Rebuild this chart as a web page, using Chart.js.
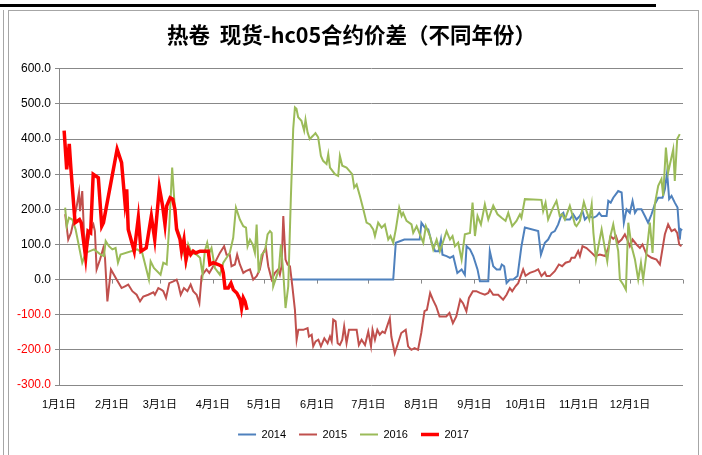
<!DOCTYPE html>
<html>
<head>
<meta charset="utf-8">
<script src="https://cdn.jsdelivr.net/npm/chart.js@4"></script>
<style>
  html, body { margin: 0; padding: 0; background: #fff; }
  #wrap { position: relative; width: 702px; height: 455px; overflow: hidden; }
  .topbar { position: absolute; left: 0; top: 4px; width: 656px; height: 3px; background: #000; }
  .side { position: absolute; left: 3px; top: 10px; width: 1px; height: 445px; background: #a6a6a6; }
  .frame { position: absolute; left: 8px; top: 10px; width: 689px; height: 450px;
           border: 1px solid #a6a6a6; border-bottom: none; }
  canvas { position: absolute; left: 0; top: 0; }
</style>
</head>
<body>
<div id="wrap">
  <div class="topbar"></div>
  <div class="side"></div>
  <div class="frame"></div>
  <canvas id="spreadChart" width="702" height="455"></canvas>
</div>
<script>
// 月份刻度（以一年中的天数计）
const monthDays = [0, 31, 59, 90, 120, 151, 181, 212, 243, 273, 304, 334, 365];
const monthLabels = ['1月1日', '2月1日', '3月1日', '4月1日', '5月1日', '6月1日', '7月1日', '8月1日', '9月1日', '10月1日', '11月1日', '12月1日', ''];
const yTicks = [-300, -200, -100, 0, 100, 200, 300, 400, 500, 600];
const years = ['2014', '2015', '2016', '2017'];

// 2014
const days2014 = [136, 195.5, 197, 202, 211, 212, 214, 216, 218, 220, 222, 223.4, 224.3, 226.7, 228.7, 230.6, 233, 235.5, 237.4, 238.4, 240.4, 242.3, 244.8, 246.2, 251.1, 252, 254, 256, 258, 259, 260.4, 261.8, 263.7, 265.7, 268.2, 270.5, 272.5, 280.3, 281.9, 284.2, 286.1, 288.1, 290, 292, 294, 295, 296, 298.8, 300.8, 302.7, 304.7, 306.2, 307.6, 309.6, 312.6, 314.5, 316, 317.4, 320.3, 321.3, 322.7, 324.2, 327.1, 329.1, 330.4, 332, 333.9, 335.5, 336.9, 338.2, 340.7, 342.7, 344.6, 346.6, 348.5, 350.5, 353, 354.4, 355.7, 356.9, 358.3, 360.2, 361.8, 363.1, 363.7, 364.5];
const vals2014 = [0, 0, 105, 114, 114, 162, 148, 143, 105, 81, 81, 114, 71, 67, 62, 67, 19, 29, 14, 95, 86, 67, 29, -5, -5, 81, 38, 29, 29, 43, 38, -10, 0, 0, 10, 95, 148, 138, 71, 105, 114, 133, 138, 157, 186, 190, 171, 171, 186, 171, 181, 195, 171, 181, 176, 181, 190, 181, 181, 224, 219, 233, 252, 248, 162, 200, 190, 224, 190, 200, 200, 181, 162, 186, 214, 233, 233, 257, 305, 229, 238, 219, 205, 114, 143, 140];

// 2015
const days2015 = [3.6, 5.4, 7, 9.4, 10.4, 11.7, 12.3, 13.6, 14.6, 16.2, 18.1, 20.1, 21, 22, 24, 25.9, 26.9, 28.3, 30.4, 33.7, 36.6, 38.6, 40.5, 42.9, 45.4, 47.4, 49.3, 52.2, 55.2, 56.1, 58.1, 60, 61, 62.6, 64.5, 66.9, 68.8, 69.8, 71.2, 73.1, 75.1, 77, 78.5, 80.5, 82.1, 83.4, 84.7, 86.3, 87.9, 90.2, 92.1, 94.1, 96.6, 98, 99.9, 100.9, 102.9, 104.2, 105.8, 107.8, 109.3, 111.7, 113.6, 115.6, 117.5, 119.4, 121, 122.4, 124.4, 126.3, 128.2, 129.2, 130.2, 131.2, 132.5, 133.7, 135.1, 136.5, 138, 139, 140, 142.9, 145.4, 146.2, 147.8, 148.7, 150.1, 151.7, 153.2, 155.2, 157.1, 158.5, 159.5, 160.4, 161.8, 163, 164.3, 165.7, 166.8, 168.2, 169.6, 172.1, 174.1, 175.4, 177, 179, 180.9, 182.5, 183.4, 184.8, 186.2, 187.6, 189.2, 190.6, 191.9, 193.5, 194.4, 196.4, 198.3, 200.2, 202.8, 204.2, 206.1, 208, 210, 211.9, 213.8, 215.2, 217.1, 218.7, 220.6, 222.6, 224.5, 226.5, 228.4, 230.4, 232.4, 234.7, 236.3, 238.3, 239.8, 242.1, 244.1, 246.2, 249.1, 251.1, 252, 254, 256.9, 259.8, 261.8, 263.7, 265.1, 267, 268.6, 270.1, 271.5, 272.9, 275.4, 278.3, 280.3, 282.2, 284.2, 285.2, 287.1, 290, 292.4, 294.3, 296.3, 298.8, 299.8, 301.7, 303.7, 304.7, 306.2, 308.6, 311.6, 313.5, 316.4, 319.4, 321.3, 322.7, 324.2, 325.8, 327.1, 329.1, 331, 332.4, 333.9, 335.5, 337.8, 339.8, 341.3, 343.7, 346.6, 349.5, 351.5, 354.4, 356.3, 358.3, 360.2, 361.6, 362.8, 364.1];
const vals2015 = [186, 114, 133, 186, 210, 248, 195, 252, 133, 86, 138, 157, 138, 29, 57, 90, 62, -62, 29, 0, -24, -19, -14, -33, -43, -62, -48, -43, -36, -43, -24, -29, -33, -52, -10, -5, 0, -14, -43, -24, -33, -14, -33, -43, -67, 10, 19, 29, 19, 38, 57, 76, 95, 71, 71, 38, 43, 71, 43, 19, 24, 29, 0, 10, 29, 76, 90, 38, 0, 19, 29, 14, 38, 181, 57, 43, 38, -19, -86, -171, -143, -143, -138, -162, -157, -190, -176, -171, -190, -167, -181, -162, -176, -114, -119, -181, -186, -171, -133, -181, -143, -143, -143, -186, -171, -186, -148, -190, -143, -171, -143, -157, -148, -152, -133, -110, -162, -210, -181, -152, -143, -190, -200, -195, -200, -152, -90, -86, -38, -57, -76, -105, -105, -105, -95, -124, -105, -57, -67, -90, -52, -33, -33, -38, -43, -38, -29, -43, -43, -57, -43, -24, -33, -19, -10, 10, 29, 11, 19, 24, 29, 10, 21, 10, 10, 24, 43, 38, 48, 52, 62, 62, 81, 67, 95, 90, 76, 67, 71, 67, 90, 124, 116, 124, 105, 114, 129, 114, 95, 114, 100, 90, 100, 71, 62, 57, 43, 129, 157, 138, 143, 133, 100, 95];

// 2016
const days2016 = [3.6, 4.5, 5.8, 7.8, 9.7, 13.6, 15.6, 20.5, 24.4, 26.3, 27.3, 29.2, 31.2, 33.1, 34.5, 36, 45.8, 48.7, 52.6, 53.6, 55.5, 59.4, 61, 63, 64.5, 66.2, 67.4, 68.6, 70.8, 72.3, 74.3, 75.6, 77.5, 80.5, 82.5, 84, 85.3, 86.7, 87.9, 89.2, 91.2, 94.1, 96.1, 98, 99.9, 101.9, 103.5, 105.8, 107.8, 109.4, 110.3, 111.7, 113.3, 114.6, 115.6, 116.8, 118.5, 120.5, 122, 123.4, 124.4, 125.3, 127.3, 128.6, 129.8, 131.2, 132.5, 134.1, 135.6, 137, 138, 138.9, 139.9, 141.8, 143.4, 144.2, 145.4, 146.7, 148.7, 150, 151.6, 153.2, 154.5, 156.5, 157.5, 158.5, 161.4, 163.3, 164.3, 165.7, 168.2, 171.5, 172.7, 174.1, 176, 178, 179.9, 181.9, 183.8, 184.8, 186.7, 188.7, 190.6, 192.6, 193.9, 195.5, 197, 199, 200.4, 201.3, 203.3, 206.2, 207.2, 209.2, 211.5, 213.1, 214.6, 217, 218.9, 220.9, 222.8, 225.1, 226.7, 228.7, 230.2, 231.6, 233.5, 235.5, 237.4, 240.4, 241.9, 243.3, 244.8, 246.8, 249.1, 251.1, 254, 256.5, 258.9, 261.2, 262.8, 265.1, 267.6, 269.6, 270.5, 272.5, 282.2, 283.2, 284.6, 286.1, 288.5, 291, 292.9, 294.3, 295.9, 298.8, 300.2, 301.8, 302.7, 304.7, 307, 308.6, 310.2, 311.6, 312.6, 314.1, 315.5, 317.4, 319.4, 320.7, 322.3, 324.2, 325.8, 327.1, 328.1, 330, 331.6, 333, 334.9, 336.9, 338.8, 340.4, 341.7, 343.7, 345.6, 347.2, 348.5, 350.5, 352.4, 353.4, 355, 356.3, 359.3, 360.2, 361.6, 363.1];
const vals2016 = [205, 152, 176, 171, 143, 48, 76, 86, 71, 67, 110, 95, 86, 90, 48, 71, 86, 76, 0, 52, 33, 14, 48, 43, 152, 319, 229, 152, 124, 95, 48, 100, 76, 71, 62, 14, 81, 105, 76, 90, 33, 14, 48, 62, 76, 119, 205, 171, 152, 148, 95, 114, 100, 76, 157, 19, 71, 81, 129, 138, 133, -19, 10, 29, 100, 19, -81, -19, 229, 429, 490, 486, 462, 452, 424, 455, 419, 400, 410, 417, 405, 352, 338, 329, 357, 319, 300, 295, 352, 324, 319, 300, 262, 271, 238, 200, 162, 157, 143, 124, 162, 148, 157, 114, 124, 105, 143, 205, 181, 190, 167, 157, 133, 152, 124, 105, 152, 124, 86, 114, 81, 114, 138, 114, 124, 95, 105, 57, 129, 133, 219, 124, 181, 157, 214, 171, 211, 186, 176, 167, 190, 152, 167, 186, 176, 229, 227, 195, 219, 171, 200, 224, 181, 186, 171, 210, 186, 157, 152, 167, 221, 195, 171, 214, 133, 57, 95, 143, 86, 52, 119, 157, 114, 81, 0, -14, -29, 162, 95, 57, 0, 48, 0, 76, 162, 76, 214, 267, 286, 238, 376, 305, 371, 281, 400, 414];

// 2017
const days2017 = [3, 4.5, 6, 7, 9.4, 12, 13, 15.6, 17, 18.5, 20, 23, 25, 26, 34, 36.6, 38.6, 39.6, 40.5, 44, 46.4, 48, 51, 54, 56, 58.7, 60.6, 62, 63, 65, 66.5, 67.8, 68.8, 70.8, 71.7, 73.1, 74.3, 75.6, 77, 78.5, 80, 82.5, 87.3, 88.3, 90.2, 93.2, 95.1, 96.1, 97.1, 99, 100.6, 102, 104, 106, 106.8, 107.8, 108.8, 110];
const vals2017 = [424, 314, 386, 314, 162, 171, 162, 62, 138, 133, 300, 290, 152, 162, 371, 333, 219, 257, 143, 81, 176, 81, 90, 181, 114, 262, 210, 157, 210, 233, 229, 200, 143, 114, 81, 114, 57, 86, 71, 81, 76, 81, 81, 43, 48, 43, 38, 19, -24, -24, -10, -29, -38, -57, -81, -52, -62, -86];

const colors = ['#4F81BD', '#C0504D', '#9BBB59', '#FF0000'];
const widths = [2, 2, 2, 3.5];

function pairUp(days, vals) {
  return days.map((d, i) => ({ x: d, y: vals[i] }));
}

const seriesData = [pairUp(days2014, vals2014), pairUp(days2015, vals2015), pairUp(days2016, vals2016), pairUp(days2017, vals2017)];

// 零轴上的刻度线
const zeroTicks = {
  id: 'zeroTicks',
  beforeDatasetsDraw(chart) {
    const { ctx, scales: { x, y } } = chart;
    const y0 = y.getPixelForValue(0);
    ctx.save();
    ctx.strokeStyle = '#888888';
    ctx.lineWidth = 1;
    ctx.beginPath();
    monthDays.forEach(d => {
      const px = Math.round(x.getPixelForValue(d)) + 0.5;
      ctx.moveTo(px, y0);
      ctx.lineTo(px, y0 + 4);
    });
    ctx.stroke();
    ctx.restore();
  }
};

// 标题和图例整体稍微右移
const boxShift = {
  id: 'boxShift',
  afterLayout(chart) {
    if (chart.legend) {
      chart.legend.left += 7;
      chart.legend.right += 7;
    }
    if (chart.titleBlock) {
      chart.titleBlock.left += 5;
      chart.titleBlock.right += 5;
    }
  }
};

const ctx = document.getElementById('spreadChart').getContext('2d');
new Chart(ctx, {
  type: 'line',
  data: {
    datasets: years.map((yr, i) => ({
      label: yr,
      data: seriesData[i],
      borderColor: colors[i],
      backgroundColor: colors[i],
      borderWidth: widths[i],
      pointRadius: 0,
      tension: 0,
      fill: false,
      order: 4 - i
    }))
  },
  options: {
    responsive: false,
    animation: false,
    layout: { padding: { left: 10, right: 19, top: 10, bottom: 5 } },
    plugins: {
      title: {
        display: true,
        text: '热卷  现货-hc05合约价差（不同年份）',
        color: '#000',
        font: { family: '"Noto Sans CJK SC", sans-serif', size: 21.5, weight: 'bold' },
        padding: { top: 12, bottom: 21 }
      },
      legend: {
        position: 'bottom',
        labels: {
          usePointStyle: true,
          pointStyle: 'line',
          pointStyleWidth: 18,
          color: '#000',
          font: { family: '"Liberation Sans", Arial, sans-serif', size: 11 },
          padding: 13,
          sort: (a, b) => a.datasetIndex - b.datasetIndex
        }
      },
      tooltip: { enabled: false }
    },
    scales: {
      x: {
        type: 'linear',
        min: 0,
        max: 365,
        afterBuildTicks: scale => { scale.ticks = monthDays.map(v => ({ value: v })); },
        afterFit: scale => { scale.height = 31; },
        grid: { display: false, drawTicks: false },
        border: { display: false },
        ticks: {
          autoSkip: false,
          maxRotation: 0,
          padding: 13,
          color: '#000',
          font: { family: '"Liberation Sans", "Noto Sans CJK SC", sans-serif', size: 11 },
          callback: (v, i) => monthLabels[i]
        }
      },
      y: {
        min: -300,
        max: 600,
        afterBuildTicks: scale => { scale.ticks = yTicks.map(v => ({ value: v })); },
        afterFit: scale => { scale.width = 49; },
        grid: { color: '#888888', lineWidth: 1, tickLength: 4 },
        border: { display: true, color: '#888888' },
        ticks: {
          padding: 4,
          color: c => (c.tick.value < 0 ? '#FF0000' : '#000000'),
          font: { family: '"Liberation Sans", Arial, sans-serif', size: 12 },
          callback: v => v.toFixed(1)
        }
      }
    }
  },
  plugins: [zeroTicks, boxShift]
});
</script>
</body>
</html>
